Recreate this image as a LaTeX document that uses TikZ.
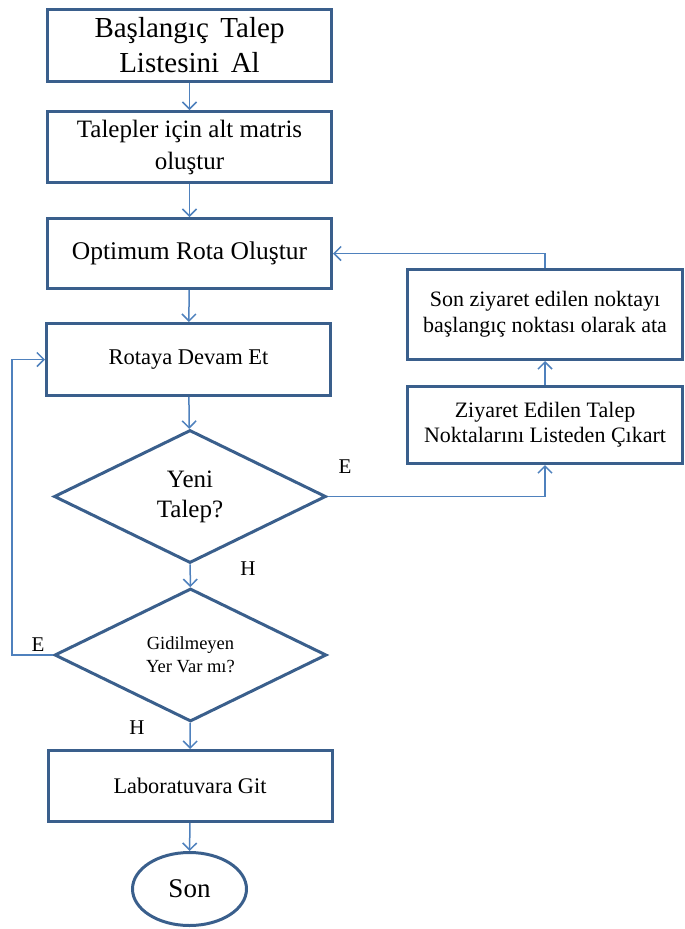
\documentclass[tikz,border=0pt]{standalone}
\usepackage{fontspec}
\setmainfont{Liberation Serif}
\usetikzlibrary{shapes.geometric,arrows.meta}
\definecolor{edge}{HTML}{3A5F8C}
\definecolor{link}{HTML}{4F81BD}
\tikzset{
	box/.style = {draw=edge, line width=3pt, rectangle, align=center,
		minimum width=#1, inner sep=0pt},
	box/.default = 284pt,
	dec/.style = {draw=edge, line width=3pt, diamond, aspect=2, align=center,
		minimum width=272pt, minimum height=133pt, inner sep=0pt},
	lbl/.style = {font=\fontsize{21}{24}\selectfont, inner sep=0pt},
	flow/.style = {draw=link, line width=1.5pt, -{Straight Barb[length=7pt,width=14pt]}}
}

\begin{document}
\begin{tikzpicture}[x=1pt, y=-1pt]
\useasboundingbox (0,0) rectangle (685,929);

\node[box, minimum height=72pt, font=\fontsize{29}{35}\selectfont] (b1) at (189.5,45) {Başlangıç\hspace{0.15em} Talep\\Listesini\hspace{0.15em} Al};
\node[box, minimum height=71pt, font=\fontsize{25}{32}\selectfont] (b2) at (189.5,147) {Talepler için alt matris\\oluştur};
\node[box, minimum height=70pt, font=\fontsize{25.5}{28}\selectfont] (b3) at (189.5,253.5) {Optimum Rota Oluştur};
\node[box, minimum height=72pt, font=\fontsize{22.5}{25}\selectfont] (b4) at (188.5,359.5) {Rotaya Devam Et};
\node[dec, font=\fontsize{25}{30}\selectfont] (d1) at (190,496.5) {Yeni\\Talep?};
\node[dec, font=\fontsize{18.5}{23}\selectfont] (d2) at (190.5,655) {Gidilmeyen\\Yer Var mı?};
\node[box, minimum height=71pt, font=\fontsize{22.3}{25}\selectfont] (b5) at (190,786) {Laboratuvara Git};
\node[draw=edge, line width=3pt, ellipse, minimum width=114pt, minimum height=73pt,
	inner sep=0pt, font=\fontsize{27}{30}\selectfont] (son) at (189.5,889) {Son};

\node[box=275pt, minimum height=90pt, font=\fontsize{22}{26}\selectfont] (b6) at (545,314.5) {Son ziyaret edilen noktayı\\başlangıç noktası olarak ata};
\node[box=275pt, minimum height=77pt, font=\fontsize{22}{25}\selectfont] (b7) at (545,425) {Ziyaret Edilen Talep\\Noktalarını Listeden Çıkart};

\node[lbl] (e1) at (345,467) {E};
\node[lbl] (h1) at (248,569) {H};
\node[lbl] (e2) at (38,645) {E};
\node[lbl] (h2) at (137,728) {H};

\coordinate (lp) at (12,655);

\draw[flow] (b1) -- (b2);
\draw[flow] (b2) -- (b3);
\draw[flow] (b3) -- (b4);
\draw[flow] (b4) -- (d1);
\draw[flow] (d1) -- (d2);
\draw[flow] (d2) -- (b5);
\draw[flow] (b5) -- (son);
\draw[flow] (d1.east) -| (b7.south);
\draw[flow] (b7) -- (b6);
\draw[flow] (b6.north) |- (b3.east);
\draw[flow] (d2.west) -- (lp) |- (b4.west);
\end{tikzpicture}
\end{document}
